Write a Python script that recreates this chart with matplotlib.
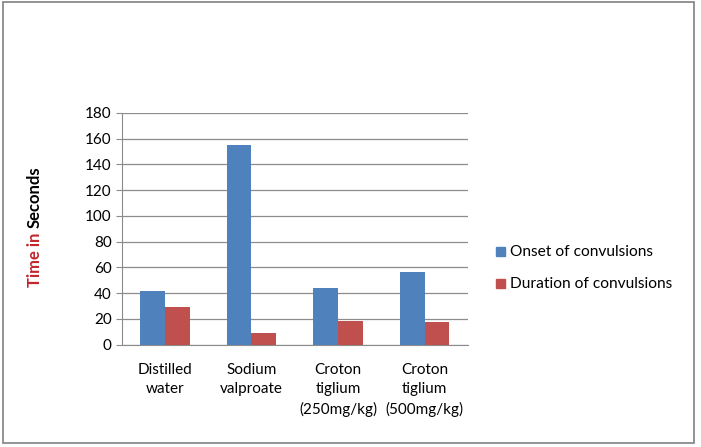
import matplotlib.pyplot as plt
import numpy as np
from matplotlib.patches import Rectangle

# Dane
groups = ['Distilled\nwater', 'Sodium\nvalproate', 'Croton\ntiglium\n(250mg/kg)', 'Croton\ntiglium\n(500mg/kg)']
onset = [41.6, 155.3, 43.9, 56.4]
duration = [29.1, 8.8, 18.4, 17.7]
series_names = ['Onset of convulsions', 'Duration of convulsions']
yticks = [0, 20, 40, 60, 80, 100, 120, 140, 160, 180]

blue = '#4F81BD'
red = '#C0504D'
grid_col = '#8C8C8C'
font = 'Lato'

fig = plt.figure(figsize=(7.01, 4.47), dpi=100)
W, H = 701, 447
ax = fig.add_axes([121.5 / W, 1 - 344.5 / H, (468 - 121.5) / W, (344.5 - 113) / H])

x = np.arange(len(groups))
w = 0.286
ax.bar(x - w / 2, onset, w, color=blue, zorder=3, label=series_names[0])
ax.bar(x + w / 2, duration, w, color=red, zorder=3, label=series_names[1])

ax.set_xlim(-0.5, len(groups) - 0.5)
ax.set_ylim(0, 180)
ax.set_yticks(yticks)
ax.set_yticklabels([str(t) for t in yticks], fontsize=11, family=font)
ax.set_xticks(x)
ax.set_xticklabels(groups, fontsize=11, family=font, linespacing=1.5)
ax.tick_params(axis='x', length=0, pad=13)
ax.tick_params(axis='y', length=4, color=grid_col, pad=3)
ax.yaxis.grid(True, color=grid_col, linewidth=0.9, zorder=0)
for s in ['top', 'right']:
    ax.spines[s].set_visible(False)
ax.spines['left'].set_color(grid_col)
ax.spines['bottom'].set_color(grid_col)

# Opis osi Y (dwa kolory)
fig.text(35 / W, 1 - 287 / H, 'Time in', rotation=90, color='#C0272D', fontsize=12,
         fontweight='bold', family=font, ha='center', va='bottom')
fig.text(35 / W, 1 - 228.5 / H, 'Seconds', rotation=90, color='black', fontsize=12,
         fontweight='bold', family=font, ha='center', va='bottom')

# Legenda
for i, (name, col) in enumerate(zip(series_names, [blue, red])):
    yc = 252 + i * 32
    fig.patches.append(Rectangle((496 / W, 1 - (yc + 4) / H), 9 / W, 9 / H,
                                 transform=fig.transFigure, color=col))
    fig.text(510 / W, 1 - yc / H, name, fontsize=11.2, family=font, va='center')

# Ramka wykresu
fig.patches.append(Rectangle((3 / W, 1 - 443 / H), 691 / W, 441 / H, transform=fig.transFigure,
                             fill=False, edgecolor='#808080', linewidth=1.2))

fig.savefig('out.png', dpi=100)
